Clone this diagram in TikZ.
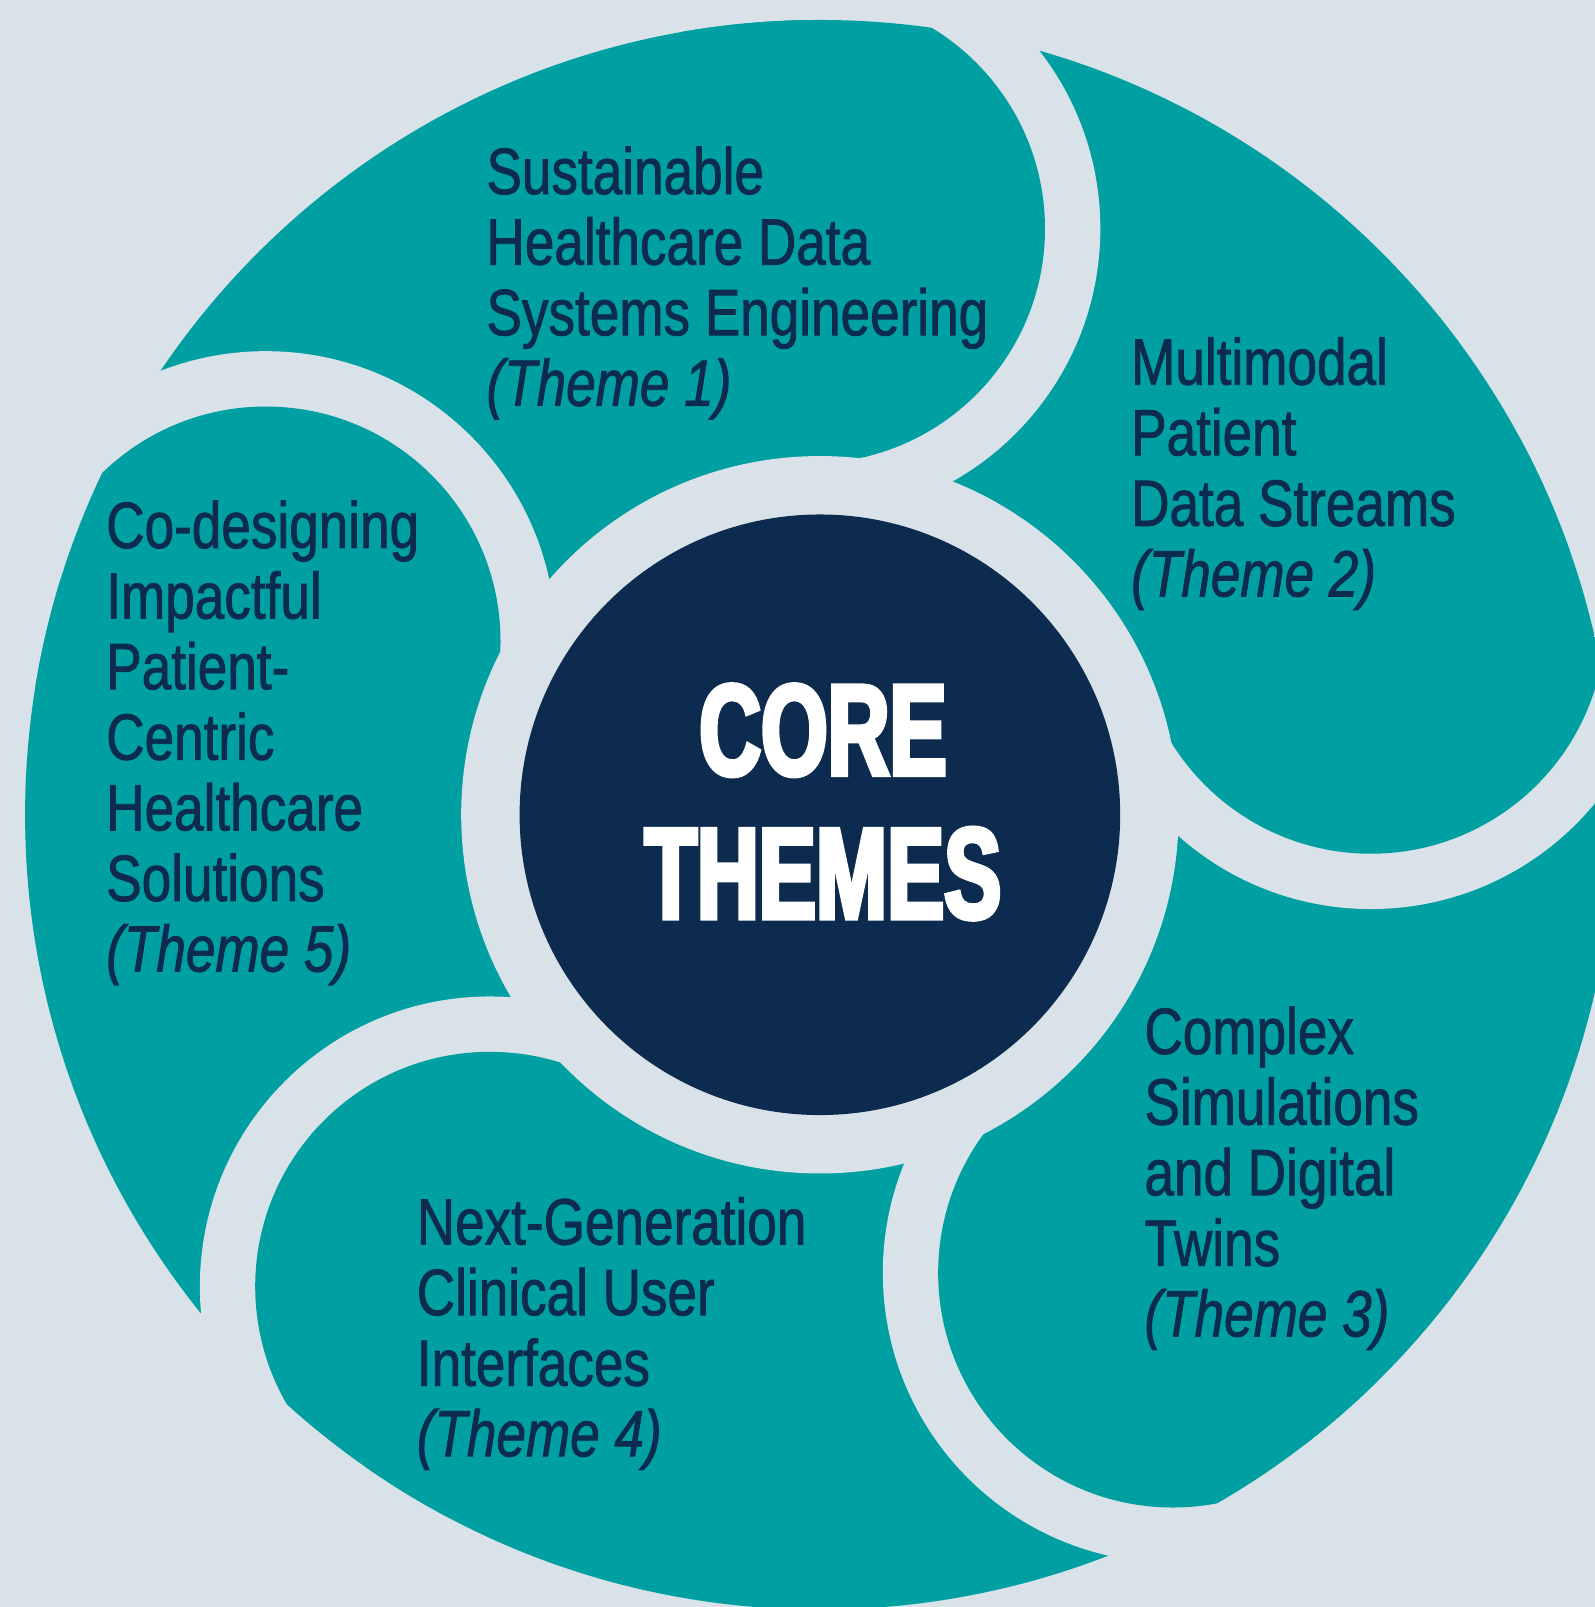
\documentclass[tikz,border=0pt]{standalone}
\usepackage{fontspec}
\setmainfont{Liberation Sans}[FakeStretch=0.81,FakeBold=1.2]
\newfontfamily\corefont{Liberation Sans}[FakeStretch=0.66,BoldFeatures={FakeBold=3.5}]
\usepackage{tikz}
\usetikzlibrary{positioning}
\definecolor{ringteal}{HTML}{009FA2}
\definecolor{paleblue}{HTML}{D8E2E8}
\definecolor{corenavy}{HTML}{0C2B4F}

\begin{document}
\begin{tikzpicture}[
  themetext/.style={anchor=base west,align=left,inner sep=0pt,text=corenavy,
    font=\fontsize{18.2}{19.6}\selectfont},
  coretext/.style={anchor=base,align=center,inner sep=0pt,text=white,
    font=\corefont\bfseries\fontsize{36}{39.8}\selectfont}]
\useasboundingbox (-8.00,-7.73) rectangle (7.56,7.95);
\fill[paleblue] (-8.00,-7.73) rectangle (7.56,7.95);
% ring of petals
\fill[ringteal] (0,0) circle (7.755);
\foreach \a in {91.15,19.15,-52.85,-124.85,-196.85}
{
\begin{scope}[shift={(0.02,0.05)}]
\clip (0,0) -- (\a:20) -- ({\a-90}:20) -- ({\a-180}:20) -- cycle;
\fill[paleblue] (\a:5.67) circle (2.83);
\end{scope}
\begin{scope}
\clip (0,0) circle (7.755);
\fill[ringteal] ([shift={(0.02,0.05)}]\a:5.67) circle (2.29);
\end{scope}
}
\fill[paleblue] (0,0) circle (3.5);
\fill[corenavy] (0,0) circle (2.93);
% labels (base = last line)
\node[coretext] (core) at (0.03,-1.01) {CORE\\THEMES};
\node[themetext] (themeone) at (-3.26,3.99) {Sustainable\\Healthcare Data\\Systems Engineering\\\textit{(Theme 1)}};
\node[themetext] (themetwo) at (3.03,2.13) {Multimodal\\Patient\\Data Streams\\\textit{(Theme 2)}};
\node[themetext] (themethree) at (3.16,-5.09) {Complex\\Simulations\\and Digital\\Twins\\\textit{(Theme 3)}};
\node[themetext] (themefour) at (-3.94,-6.26) {Next-Generation\\Clinical User\\Interfaces\\\textit{(Theme 4)}};
\node[themetext] (themefive) at (-6.97,-1.53) {Co-designing\\Impactful\\Patient-\\Centric\\Healthcare\\Solutions\\\textit{(Theme 5)}};
\end{tikzpicture}
\end{document}
